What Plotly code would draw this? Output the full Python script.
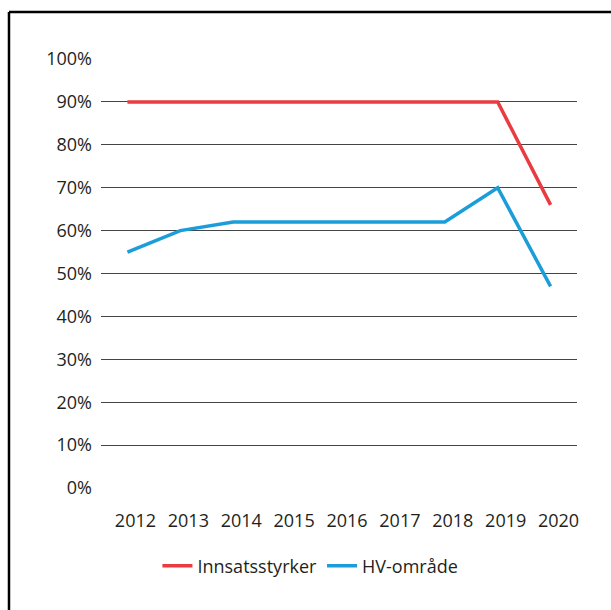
import plotly.graph_objects as go

years = ["2012", "2013", "2014", "2015", "2016", "2017", "2018", "2019", "2020"]
innsatsstyrker = [90, 90, 90, 90, 90, 90, 90, 90, 66]
hv_omrade = [55, 60, 62, 62, 62, 62, 62, 70, 47]
y_ticks = [0, 10, 20, 30, 40, 50, 60, 70, 80, 90, 100]
y_labels = [f"{v}%" for v in y_ticks]

font = dict(family="Open Sans, Noto Sans, sans-serif", size=18, color="#231f20")

fig = go.Figure()
fig.add_trace(go.Scatter(x=years, y=innsatsstyrker, mode="lines", name="Innsatsstyrker",
                         line=dict(color="#ea3b40", width=3.5)))
fig.add_trace(go.Scatter(x=years, y=hv_omrade, mode="lines", name="HV-område",
                         line=dict(color="#1b9dd9", width=3.5)))

fig.update_layout(
    width=611, height=610,
    margin=dict(l=101, r=34, t=59, b=122),
    paper_bgcolor="white", plot_bgcolor="white",
    font=font,
    showlegend=True,
    legend=dict(orientation="h", x=0.44, xanchor="center", y=-0.182, yanchor="middle",
                font=dict(size=18), itemwidth=30, traceorder="normal"),
    xaxis=dict(type="category", range=[-0.5, 8.5], showgrid=False, zeroline=False,
               showline=False, ticks="", ticklabelshift=8, ticklabelstandoff=20),
    yaxis=dict(range=[0, 100], tickvals=y_ticks, ticktext=y_labels, showgrid=True,
               gridcolor="#444444", gridwidth=1, zeroline=False, showline=False,
               ticks="", ticklabelstandoff=8),
    shapes=[
        dict(type="line", xref="paper", yref="paper", x0=-0.1933, x1=-0.1933, y0=-1, y1=1.1096,
             line=dict(color="black", width=2.5)),
        dict(type="line", xref="paper", yref="paper", x0=-0.1933, x1=2, y0=1.1096, y1=1.1096,
             line=dict(color="black", width=2.5)),
    ],
)

fig.write_html("out.html", config={"displayModeBar": False},
               post_script="document.body.style.margin='0';document.body.style.padding='0';")
